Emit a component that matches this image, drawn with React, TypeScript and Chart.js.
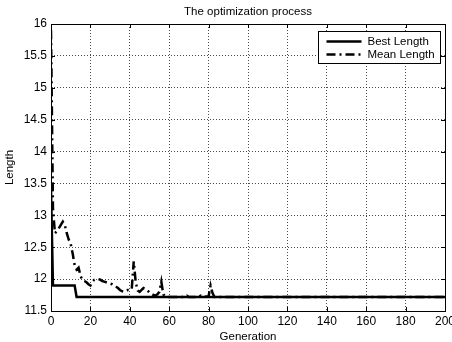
import React, { useEffect, useRef } from "react";
import { Chart, registerables } from "chart.js";

Chart.register(...registerables);

const title = "The optimization process";
const xTitle = "Generation";
const yTitle = "Length";
const legendLabels = ["Best Length", "Mean Length"];

// Best length: generation / value at change points
const bestGen = [0, 1, 12, 13, 200];
const bestLen = [13.4, 11.9, 11.9, 11.72, 11.72];

// Mean length
const meanGen = [
  0, 1, 2, 3, 4, 5, 6, 7, 8, 9, 10, 11, 12, 13, 14, 15, 16, 17, 18, 19,
  20, 21, 22, 23, 24, 25, 26, 27, 28, 29, 30, 31, 32, 33, 34, 35, 36, 37, 38, 39,
  40, 41, 42, 43, 44, 45, 46, 47, 48, 49, 50, 51, 52, 53, 54, 55, 56, 57, 58, 59,
  60, 68, 69, 70, 75, 76, 77, 80, 81, 82, 83, 200,
];
const meanLen = [
  15.9, 13.1, 12.72, 12.75, 12.8, 12.85, 12.9, 12.85, 12.72, 12.62, 12.55, 12.4, 12.22, 12.15, 12.18, 12.05, 11.98, 11.97, 11.95, 11.92,
  11.9, 11.96, 11.99, 12.0, 12.0, 11.99, 11.97, 11.96, 11.95, 11.94, 11.93, 11.92, 11.9, 11.88, 11.86, 11.83, 11.81, 11.8, 11.82, 11.83,
  11.82, 11.85, 12.28, 11.95, 11.82, 11.8, 11.83, 11.86, 11.85, 11.82, 11.79, 11.77, 11.75, 11.74, 11.76, 11.8, 11.96, 11.76, 11.73, 11.72,
  11.72, 11.72, 11.74, 11.72, 11.72, 11.74, 11.72, 11.73, 11.9, 11.78, 11.72, 11.72,
];

const xTicks = [0, 20, 40, 60, 80, 100, 120, 140, 160, 180, 200];
const yTicks = [11.5, 12, 12.5, 13, 13.5, 14, 14.5, 15, 15.5, 16];

const FONT = "'Liberation Sans', Arial, Helvetica, sans-serif";
const MEAN_DASH = [9, 4, 2, 4];

const framePlugin = {
  id: "matlabFrame",
  afterDraw(chart: any) {
    const { ctx, chartArea } = chart;
    const { left, right, top, bottom } = chartArea;
    const xs = chart.scales.x;
    const ys = chart.scales.y;
    ctx.save();
    ctx.strokeStyle = "#000";
    ctx.lineWidth = 1;
    ctx.setLineDash([]);
    ctx.beginPath();
    for (const v of xTicks) {
      const px = Math.round(xs.getPixelForValue(v)) + 0.5;
      ctx.moveTo(px, bottom);
      ctx.lineTo(px, bottom - 4);
      ctx.moveTo(px, top);
      ctx.lineTo(px, top + 4);
    }
    for (const v of yTicks) {
      const py = Math.round(ys.getPixelForValue(v)) + 0.5;
      ctx.moveTo(left, py);
      ctx.lineTo(left + 4, py);
      ctx.moveTo(right, py);
      ctx.lineTo(right - 4, py);
    }
    ctx.stroke();
    ctx.strokeRect(Math.round(left) + 0.5, Math.round(top) + 0.5, Math.round(right - left), Math.round(bottom - top));

    // title centred over the plot area
    ctx.fillStyle = "#000";
    ctx.font = `11.5px ${FONT}`;
    ctx.textAlign = "center";
    ctx.textBaseline = "middle";
    ctx.fillText(title, (left + right) / 2, 12);

    // legend box
    const bw = 122;
    const bh = 32;
    const bx = Math.round(right) - 5 - bw + 0.5;
    const by = Math.round(top) + 7 + 0.5;
    ctx.fillStyle = "#fff";
    ctx.fillRect(bx, by, bw, bh);
    ctx.strokeRect(bx, by, bw, bh);
    ctx.font = `11.5px ${FONT}`;
    ctx.fillStyle = "#000";
    ctx.textBaseline = "middle";
    ctx.textAlign = "left";
    const rows = [by + 10, by + 23];
    ctx.lineWidth = 2.5;
    ctx.lineCap = "butt";
    for (let i = 0; i < 2; i++) {
      ctx.setLineDash(i === 0 ? [] : MEAN_DASH);
      ctx.beginPath();
      ctx.moveTo(bx + 8, rows[i]);
      ctx.lineTo(bx + 43, rows[i]);
      ctx.stroke();
      ctx.fillText(legendLabels[i], bx + 49, rows[i]);
    }
    ctx.restore();
  },
};

export default function App() {
  const ref = useRef<HTMLCanvasElement | null>(null);
  useEffect(() => {
    if (!ref.current) return;
    const chart = new Chart(ref.current, {
      type: "line",
      data: {
        datasets: [
          {
            label: legendLabels[0],
            data: bestGen.map((g, i) => ({ x: g, y: bestLen[i] })),
            borderColor: "#000",
            borderWidth: 2.5,
            pointRadius: 0,
            tension: 0,
            fill: false,
          },
          {
            label: legendLabels[1],
            data: meanGen.map((g, i) => ({ x: g, y: meanLen[i] })),
            borderColor: "#000",
            borderWidth: 2.5,
            borderDash: MEAN_DASH,
            pointRadius: 0,
            tension: 0,
            fill: false,
          },
        ],
      },
      options: {
        animation: false,
        responsive: false,
        devicePixelRatio: 1,
        layout: { padding: { left: 0, right: 7, top: 24, bottom: 0 } },
        plugins: {
          legend: { display: false },
          tooltip: { enabled: false },
          title: { display: false },
        },
        scales: {
          x: {
            type: "linear",
            min: 0,
            max: 200,
            afterBuildTicks: (s: any) => {
              s.ticks = xTicks.map((v) => ({ value: v }));
            },
            afterFit: (s: any) => {
              s.height = 31;
              s.paddingLeft = 0;
              s.paddingRight = 0;
            },
            ticks: {
              color: "#000",
              font: { family: FONT, size: 12 },
              padding: 3,
              maxRotation: 0,
              autoSkip: false,
              callback: (v: any) => String(v),
            },
            grid: {
              color: "rgba(0,0,0,0.7)",
              lineWidth: 1,
              drawTicks: false,
            },
            border: { display: false, dash: [1, 2] },
            title: {
              display: true,
              text: xTitle,
              color: "#000",
              font: { family: FONT, size: 11.5 },
              padding: { top: 0, bottom: -2 },
            },
          },
          y: {
            type: "linear",
            min: 11.5,
            max: 16,
            afterBuildTicks: (s: any) => {
              s.ticks = yTicks.map((v) => ({ value: v }));
            },
            afterFit: (s: any) => {
              s.width = 51;
              s.paddingTop = 0;
              s.paddingBottom = 0;
            },
            ticks: {
              color: "#000",
              font: { family: FONT, size: 12 },
              padding: 4,
              autoSkip: false,
              callback: (v: any) => String(v),
            },
            grid: {
              color: "rgba(0,0,0,0.7)",
              lineWidth: 1,
              drawTicks: false,
            },
            border: { display: false, dash: [1, 2] },
            title: {
              display: true,
              text: yTitle,
              color: "#000",
              font: { family: FONT, size: 11.5 },
              padding: { top: 3, bottom: 0 },
            },
          },
        },
      },
      plugins: [framePlugin],
    } as any);
    return () => chart.destroy();
  }, []);
  return (
    <div style={{ position: "fixed", left: 0, top: 0, width: 452, height: 342, background: "#fff" }}>
      <canvas ref={ref} width={452} height={342} />
    </div>
  );
}
